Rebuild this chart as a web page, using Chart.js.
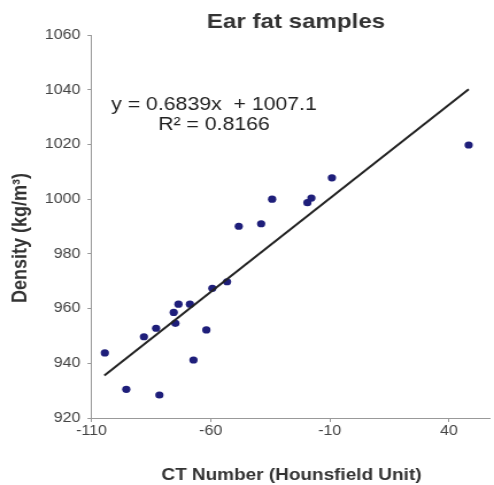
<!DOCTYPE html>
<html>
<head>
<meta charset="utf-8">
<script src="https://cdn.jsdelivr.net/npm/chart.js@4.4.1/dist/chart.umd.min.js"></script>
<style>
  html, body { margin: 0; padding: 0; background: #ffffff; }
  #c { display: block; width: 494px; height: 485px; }
</style>
</head>
<body>
<canvas id="c" width="430" height="485" style="width:494px;height:485px"></canvas>
<script>
// ---- data ----
const titleText = "Ear fat samples";
const xTitle = "CT Number (Hounsfield Unit)";
const yTitle = "Density (kg/m\u00B3)";
const ctNumber = [-104.4, -95.4, -88.0, -82.9, -81.5, -75.5, -74.8, -73.5, -68.7, -67.2,
                  -61.8, -59.3, -53.1, -48.2, -38.8, -34.2, -19.4, -17.7, -9.1, 48.3];
const density  = [943.8, 930.5, 949.7, 952.8, 928.4, 958.6, 954.6, 961.6, 961.6, 941.2,
                  952.2, 967.4, 969.8, 990.1, 991.0, 1000.0, 998.7, 1000.4, 1007.8, 1019.8];
const trendSlope = 0.6839;
const trendIntercept = 1007.1;
const trendX = [-104.6, 48.3];
const equationLines = ["y = 0.6839x  + 1007.1", "R\u00B2 = 0.8166"];
const xTicks = [-110, -60, -10, 40];
const yTicks = [920, 940, 960, 980, 1000, 1020, 1040, 1060];
const xRange = [-110, 57];
const yRange = [920, 1060];

// ---- build library structures ----
const points = ctNumber.map((x, i) => ({ x: x, y: density[i] }));
const trend = trendX.map(x => ({ x: x, y: trendSlope * x + trendIntercept }));

const FONT = "'Liberation Sans', Arial, Helvetica, sans-serif";
const S = 494 / 430; // horizontal display stretch

const textPlugin = {
  id: 'texts',
  afterDraw(chart) {
    const ctx = chart.ctx;
    ctx.save();
    // title
    ctx.fillStyle = '#333333';
    ctx.textAlign = 'center';
    ctx.textBaseline = 'alphabetic';
    ctx.font = 'bold 21px ' + FONT;
    ctx.fillText(titleText, 296 / S, 28);
    // x title
    ctx.font = 'bold 16.5px ' + FONT;
    ctx.fillText(xTitle, 291.5 / S, 480);
    // y title
    ctx.save();
    ctx.translate(26 / S, 238);
    ctx.rotate(-Math.PI / 2);
    ctx.font = 'bold 18px ' + FONT;
    ctx.fillText(yTitle, 0, 0);
    ctx.restore();
    // equation
    ctx.fillStyle = '#222222';
    ctx.font = '18.5px ' + FONT;
    ctx.fillText(equationLines[0], 214 / S, 110);
    ctx.fillText(equationLines[1], 214 / S, 130);
    ctx.restore();
  }
};

new Chart(document.getElementById('c'), {
  type: 'scatter',
  data: {
    datasets: [
      {
        type: 'line',
        data: trend,
        borderColor: '#222222',
        borderWidth: 2,
        pointRadius: 0,
        fill: false,
        tension: 0,
        order: 0
      },
      {
        type: 'scatter',
        data: points,
        pointStyle: 'circle',
        pointRadius: 3.6,
        backgroundColor: '#1e1e7a',
        borderColor: '#1e1e7a',
        borderWidth: 0,
        order: 1
      }
    ]
  },
  options: {
    responsive: false,
    animation: false,
    devicePixelRatio: 1,
    layout: { padding: { top: 35, right: 1, left: 0, bottom: 0 } },
    plugins: {
      legend: { display: false },
      tooltip: { enabled: false },
      title: { display: false }
    },
    scales: {
      x: {
        type: 'linear',
        min: xRange[0],
        max: xRange[1],
        afterBuildTicks: s => { s.ticks = xTicks.map(v => ({ value: v })); },
        afterFit: s => { s.height = 67; },
        grid: { drawOnChartArea: false, drawTicks: true, tickLength: 4, color: '#999999' },
        border: { color: '#999999', width: 1 },
        ticks: {
          font: { family: FONT, size: 14 },
          color: '#444444',
          padding: 1,
          maxRotation: 0,
          autoSkip: false,
          callback: v => String(v)
        },
        title: { display: false }
      },
      y: {
        type: 'linear',
        min: yRange[0],
        max: yRange[1],
        afterBuildTicks: s => { s.ticks = yTicks.map(v => ({ value: v })); },
        afterFit: s => { s.width = 91.5 / S; },
        grid: { drawOnChartArea: false, drawTicks: true, tickLength: 3.5, color: '#999999' },
        border: { color: '#999999', width: 1 },
        ticks: {
          font: { family: FONT, size: 14 },
          color: '#444444',
          padding: 6,
          autoSkip: false,
          callback: v => String(v)
        },
        title: { display: false }
      }
    }
  },
  plugins: [textPlugin]
});
</script>
</body>
</html>
